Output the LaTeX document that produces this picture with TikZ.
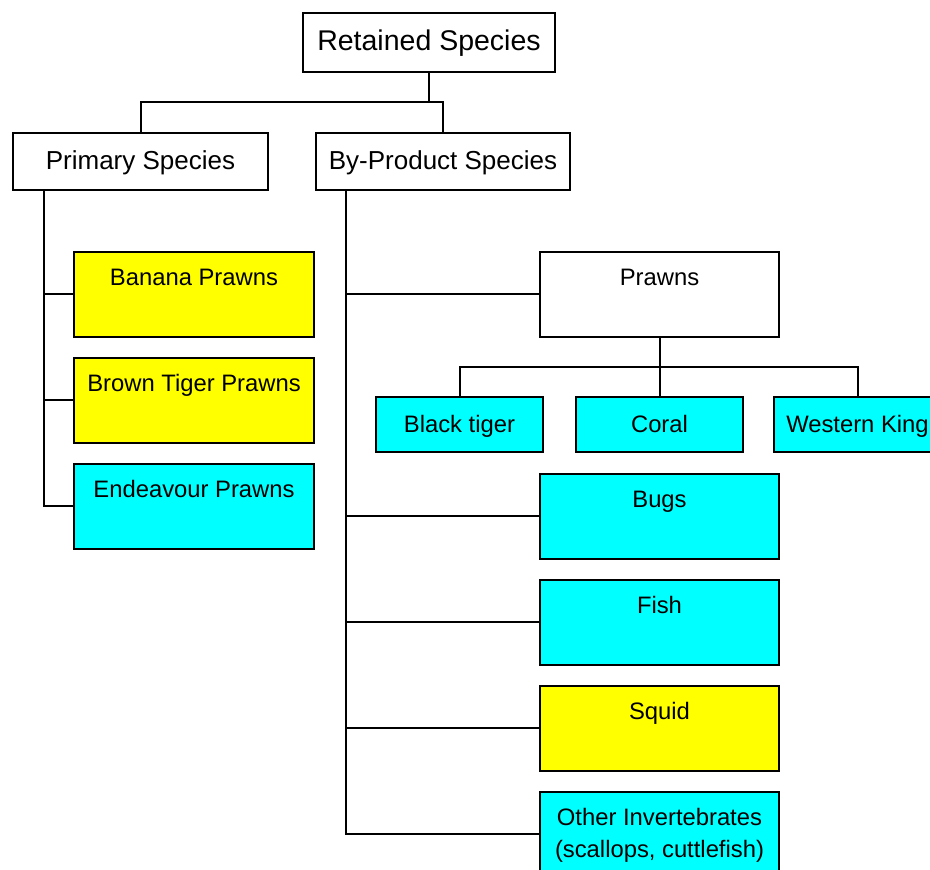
\documentclass[tikz,border=0pt]{standalone}
\usepackage{fontspec}
\setmainfont{Liberation Sans}
\definecolor{cy}{RGB}{0,255,255}
\definecolor{ye}{RGB}{255,255,0}
\begin{document}
\begin{tikzpicture}[x=1pt,y=-1pt,line width=2pt,
  box/.style={draw=black,rectangle,inner sep=0pt,align=center,text height=17pt,text depth=0pt},
  toplvl/.style={box,minimum width=252pt,minimum height=59pt,font=\fontsize{28.5pt}{34pt}\selectfont},
  midlvl/.style={box,minimum width=255pt,minimum height=57pt,font=\fontsize{26pt}{31pt}\selectfont},
  leaf/.style={draw=black,rectangle,inner sep=0pt,align=center,minimum width=240pt,
    text height=34pt,text depth=51pt,font=\fontsize{23.8pt}{29.5pt}\selectfont,anchor=north},
  small/.style={box,minimum width=167pt,minimum height=55pt,font=\fontsize{23.8pt}{29pt}\selectfont}]
\useasboundingbox (0,0) rectangle (930,870);
\clip (0,0) rectangle (930,870);
\fill[white] (0,0) rectangle (930,870);

\node[toplvl] (ret) at (429,42) {Retained Species};
\node[midlvl] (prim) at (140.5,161) {Primary Species};
\node[midlvl,minimum width=254pt] (by) at (443,161) {By-Product Species};

\node[leaf,fill=ye] (banana) at (194,250.5) {Banana Prawns};
\node[leaf,fill=ye] (brown) at (194,356.5) {Brown Tiger Prawns};
\node[leaf,fill=cy] (endeav) at (194,462.5) {Endeavour Prawns};

\node[leaf,fill=white,minimum width=239pt] (prawns) at (659.5,250.5) {Prawns};
\node[small,fill=cy] (black) at (459.5,424) {Black tiger};
\node[small,fill=cy] (coral) at (659.5,424) {Coral};
\node[small,fill=cy] (western) at (857.5,424) {Western King};

\node[leaf,fill=cy,minimum width=239pt] (bugs) at (659.5,472.5) {Bugs};
\node[leaf,fill=cy,minimum width=239pt] (fish) at (659.5,578.5) {Fish};
\node[leaf,fill=ye,minimum width=239pt] (squid) at (659.5,684.5) {Squid};
\node[leaf,fill=cy,minimum width=239pt,text height=66pt,text depth=19pt] (other) at (659.5,790.5)
  {Other Invertebrates\\[3pt](scallops, cuttlefish)};

\coordinate (j1) at (429,101.5);
\coordinate (pt) at (44,189);
\coordinate (bt) at (346,189);
\coordinate (j2) at (659.5,366.5);

\draw (ret.south) -- (j1);
\draw (prim.north) |- (j1);
\draw (by.north) |- (j1);

\draw (pt) |- (banana.west);
\draw (pt) |- (brown.west);
\draw (pt) |- (endeav.west);

\draw (bt) |- (prawns.west);
\draw (bt) |- (bugs.west);
\draw (bt) |- (fish.west);
\draw (bt) |- (squid.west);
\draw (bt) |- (other.west);

\draw (prawns.south) -- (j2);
\draw (black.north) |- (j2);
\draw (coral.north) -- (j2);
\draw (western.north) |- (j2);
\end{tikzpicture}
\end{document}
